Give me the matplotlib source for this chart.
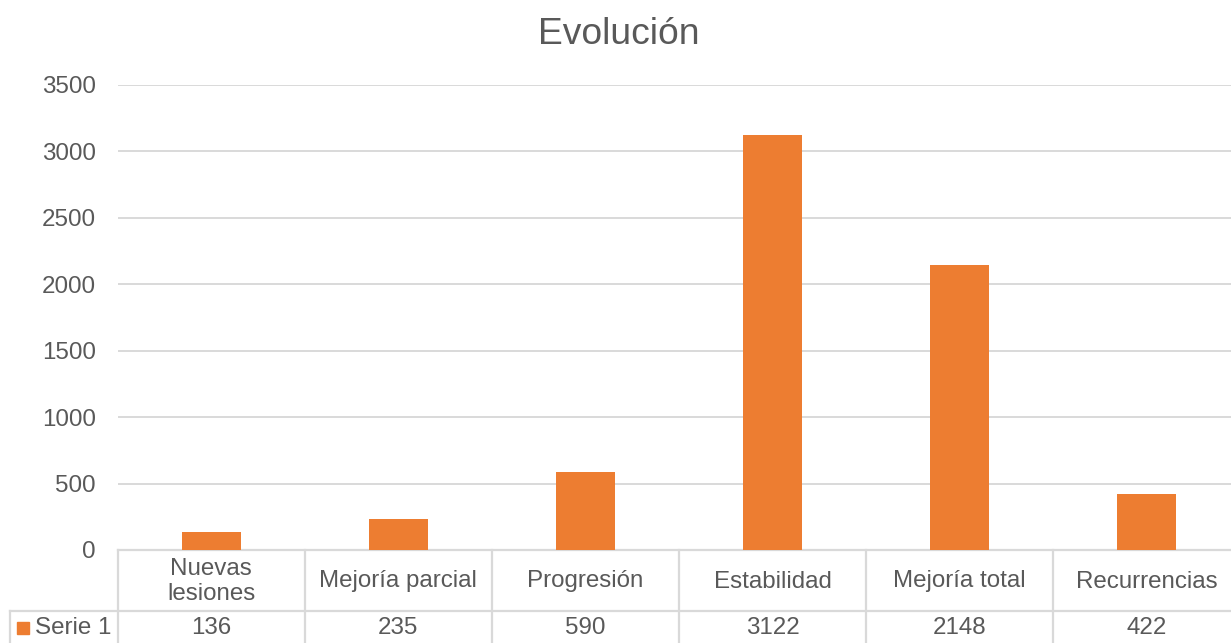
import matplotlib
matplotlib.use("Agg")
import matplotlib.pyplot as plt
from matplotlib import transforms
from matplotlib.lines import Line2D
from matplotlib.patches import Rectangle

categories = ["Nuevas\nlesiones", "Mejoría parcial", "Progresión", "Estabilidad",
              "Mejoría total", "Recurrencias"]
values = [136, 235, 590, 3122, 2148, 422]
series_name = "Serie 1"
yticks = [0, 500, 1000, 1500, 2000, 2500, 3000, 3500]

W, H = 1231, 643
BAR = "#ED7D31"
TXT = "#595959"
GRID = "#D9D9D9"
FONT = "Liberation Sans"
FS = 17.4

plt.rcParams["font.family"] = [FONT, "DejaVu Sans"]

fig = plt.figure(figsize=(W / 100, H / 100), dpi=100)

def fx(px):
    return px / W

def fy(px):
    return 1 - px / H

left_px, right_px, top_px, bottom_px = 117.5, 1240.5, 85, 550
ax = fig.add_axes([fx(left_px), fy(bottom_px), fx(right_px - left_px), (bottom_px - top_px) / H])

x = list(range(len(categories)))
ax.bar(x, values, width=0.315, color=BAR, zorder=3)
ax.set_xlim(-0.5, len(categories) - 0.5)
ax.set_ylim(0, 3500)
ax.set_yticks(yticks)
ax.set_yticklabels([str(t) for t in yticks])
ax.tick_params(axis="y", length=0, pad=15.8, labelsize=FS, labelcolor=TXT)
ax.set_xticks([])
ax.grid(axis="y", color=GRID, linewidth=1.4, zorder=0)
for s in ["top", "right", "left"]:
    ax.spines[s].set_visible(False)
ax.spines["bottom"].set_color(GRID)
ax.spines["bottom"].set_linewidth(1.6)
ax.set_facecolor("none")

fig.text(0.503, fy(34), "Evolución", ha="center", va="center", fontsize=26.8, color=TXT)

# Data table under the plot: x in data units, y in figure fraction
tr = transforms.blended_transform_factory(ax.transData, fig.transFigure)
row_sep_px = 611
bottom_edge_px = 660
lw = 1.6
n = len(categories)

# horizontal separator between header row and data row, extending under the legend cell
fig.add_artist(Line2D([fx(10), fx(right_px)], [fy(row_sep_px)] * 2,
                      color=GRID, lw=lw, transform=fig.transFigure))
# left border of the legend cell
fig.add_artist(Line2D([fx(10)] * 2, [fy(row_sep_px), fy(bottom_edge_px)],
                      color=GRID, lw=lw, transform=fig.transFigure))
# column borders
for i in range(n + 1):
    xb = i - 0.5
    fig.add_artist(Line2D([xb, xb], [fy(bottom_px), fy(bottom_edge_px)],
                          color=GRID, lw=lw, transform=tr))

for i, (cat, v) in enumerate(zip(categories, values)):
    fig.text(i, fy((bottom_px + row_sep_px) / 2 + 1), cat, transform=tr,
             ha="center", va="center", fontsize=FS, color=TXT, linespacing=1.12)
    fig.text(i, fy(628), str(v), transform=tr,
             ha="center", va="center", fontsize=FS, color=TXT)

# legend key in the table
fig.add_artist(Rectangle((fx(17), fy(634)), fx(12), 12 / H, color=BAR,
                         transform=fig.transFigure))
fig.text(fx(35), fy(628), series_name, ha="left", va="center", fontsize=FS, color=TXT)

fig.savefig("out.png", dpi=100)
